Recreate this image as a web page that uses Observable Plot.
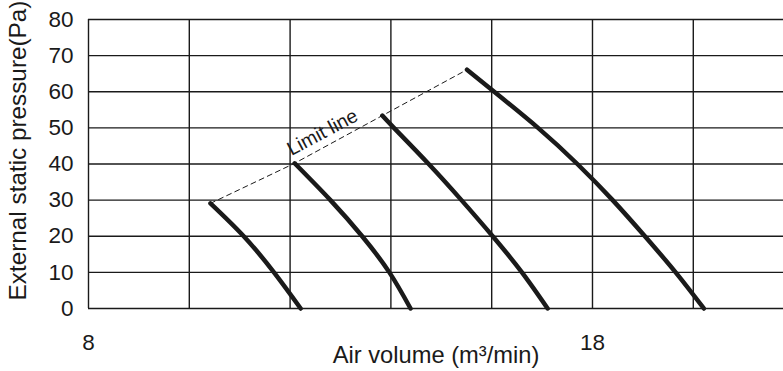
<!DOCTYPE html>
<html><head><meta charset="utf-8">
<script src="https://cdn.jsdelivr.net/npm/d3@7"></script>
<script src="https://cdn.jsdelivr.net/npm/@observablehq/plot@0.6"></script>
<style>body{margin:0;background:#fff} svg{display:block}</style>
</head><body><div id="chart"></div>
<script>
const xGrid = [8, 10, 12, 14, 16, 18, 20];
const yGrid = [0, 10, 20, 30, 40, 50, 60, 70, 80];
const xTickLabels = [8, 18];
const yTickLabels = [0, 10, 20, 30, 40, 50, 60, 70, 80];
const xDomain = [8, 21.79];
const yDomain = [0, 80];

const curveIds = ["A", "B", "C", "D"];
const airA = [10.42, 11.08, 11.68, 12.21];
const pressA = [29.1, 20, 10, 0];
const airB = [12.09, 12.80, 13.43, 13.97, 14.39];
const pressB = [40.2, 30, 20, 10, 0];
const airC = [13.83, 14.06, 14.75, 15.40, 16.02, 16.60, 17.11];
const pressC = [53.4, 50, 40, 30, 20, 10, 0];
const airD = [15.51, 16.05, 16.92, 17.70, 18.40, 19.04, 19.65, 20.21];
const pressD = [66.1, 60, 50, 40, 30, 20, 10, 0];

const xLabel = "Air volume (m³/min)";
const yLabel = "External static pressure(Pa)";
const limitLabel = "Limit line";

const series = [[airA, pressA], [airB, pressB], [airC, pressC], [airD, pressD]];
const rows = series.flatMap(([xs, ys], k) => xs.map((x, i) => ({id: curveIds[k], air: x, press: ys[i]})));
const limitPts = series.map(([xs, ys], k) => ({id: curveIds[k], air: xs[0], press: ys[0]}));
const labelPos = [{
  air: (limitPts[1].air + limitPts[2].air) / 2,
  press: (limitPts[1].press + limitPts[2].press) / 2,
  text: limitLabel
}];

const font = "'Liberation Sans', Arial, Helvetica, sans-serif";
const ink = "#1a1a1a";

const chart = Plot.plot({
  width: 783, height: 371,
  marginLeft: 88, marginRight: 0, marginTop: 19, marginBottom: 63,
  x: {domain: xDomain},
  y: {domain: yDomain},
  style: {fontFamily: font, fontSize: "22.5px", background: "#fff", color: ink, overflow: "visible"},
  marks: [
    Plot.ruleX(xGrid, {stroke: ink, strokeWidth: 1.4}),
    Plot.ruleY(yGrid, {stroke: ink, strokeWidth: 1.4}),
    Plot.axisX(xTickLabels, {tickSize: 0, tickPadding: 26, label: null}),
    Plot.axisY(yTickLabels, {tickSize: 0, tickPadding: 15, label: null}),
    Plot.line(limitPts, {x: "air", y: "press", stroke: ink, strokeWidth: 1, strokeDasharray: "5,4"}),
    Plot.line(rows, {x: "air", y: "press", z: "id", curve: "natural", stroke: ink, strokeWidth: 4.5, strokeLinecap: "round", strokeLinejoin: "round"}),
    Plot.text(labelPos, {x: "air", y: "press", text: "text", rotate: -28, dx: -16, dy: -7, fontSize: 19.5, fill: ink}),
    Plot.text([xLabel], {frameAnchor: "bottom", lineAnchor: "bottom", dy: 54, fontSize: 23.7, fill: ink}),
    Plot.text([yLabel], {frameAnchor: "left", textAnchor: "middle", rotate: -90, dx: -70, dy: -13.5, fontSize: 24.3, fill: ink})
  ]
});
document.getElementById("chart").appendChild(chart);
</script>
</body></html>
